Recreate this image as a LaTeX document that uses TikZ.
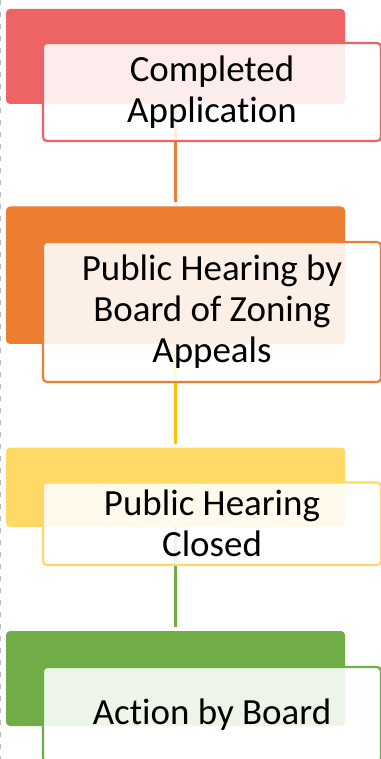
\documentclass[tikz,border=0pt]{standalone}
\usepackage{fontspec}
\setmainfont{Carlito}[Ligatures={NoCommon,NoContextual},RawFeature={-liga;-clig;-dlig}]
\definecolor{cred}{HTML}{EE6363}
\definecolor{corange}{HTML}{ED7D31}
\definecolor{cyellow}{HTML}{FFD966}
\definecolor{cgold}{HTML}{FFC000}
\definecolor{cgreen}{HTML}{70AD47}
\begin{document}
\begin{tikzpicture}[x=0.75pt,y=-0.75pt,
  fillbox/.style={draw=none, rounded corners=3pt, anchor=north west,
    minimum width=254.25pt, inner sep=0pt, outer sep=0pt},
  linebox/.style={line width=1.6pt, rounded corners=3pt, anchor=north west,
    fill=white, fill opacity=0.88, text opacity=1,
    minimum width=253.5pt, inner sep=0pt, outer sep=0pt, align=center,
    font=\fontsize{27.7pt}{30.75pt}\selectfont},
  conn/.style={line width=1.6pt}]
\useasboundingbox (0,0) rectangle (381,759);
\clip (0,0) rectangle (381,759);
% faint clipped edge at the far left
\coordinate (et) at (0.8,0);
\coordinate (eb) at (0.8,759);
\draw[gray!55, line width=1pt, dash pattern=on 4pt off 5pt] (et) -- (eb);
% filled back boxes
\node[fillbox, fill=cred, minimum height=71.25pt] (f1) at (6,9) {};
\node[fillbox, fill=corange, minimum height=103.1pt] (f2) at (6,206.5) {};
\node[fillbox, fill=cyellow, minimum height=59.6pt] (f3) at (6,447.5) {};
\node[fillbox, fill=cgreen, minimum height=71.25pt] (f4) at (6,631) {};
% connectors
\draw[conn, corange] (f1.south) -- ([yshift=3pt]f2.north);
\draw[conn, cgold] (f2.south) -- ([yshift=3pt]f3.north);
\draw[conn, cgreen] (f3.south) -- ([yshift=3pt]f4.north);
% outlined front boxes
\node[linebox, draw=cred, minimum height=73.5pt] (t1) at (43,43) {Completed\\Application};
\node[linebox, draw=corange, minimum height=105pt] (t2) at (43,242) {Public Hearing by\\Board of Zoning\\Appeals};
\node[linebox, draw=cyellow, minimum height=61.9pt] (t3) at (43,482.5) {Public Hearing\\Closed};
\node[linebox, draw=cgreen, minimum height=71.25pt] (t4) at (43,667) {Action by Board};
\end{tikzpicture}
\end{document}
